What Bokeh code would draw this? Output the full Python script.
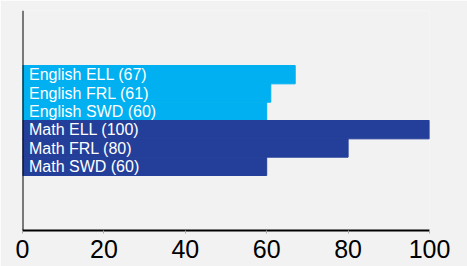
from bokeh.plotting import figure
from bokeh.models import ColumnDataSource, Range1d, Span, FixedTicker
from bokeh.core.properties import value
from bokeh.embed import file_html
from bokeh.resources import INLINE

categories = ["English ELL", "English FRL", "English SWD", "Math ELL", "Math FRL", "Math SWD"]
values = [67, 61, 60, 100, 80, 60]
subjects = ["English", "English", "English", "Math", "Math", "Math"]
subject_colors = {"English": "#00B0F0", "Math": "#243F99"}
x_ticks = [0, 20, 40, 60, 80, 100]

n = len(categories)
slots = 12
pad = (slots - n) / 2
ypos = [slots - pad - i - 0.5 for i in range(n)]
labels = [f"{c} ({v})" for c, v in zip(categories, values)]
colors = [subject_colors[s] for s in subjects]

src = ColumnDataSource(dict(y=ypos, v=values, label=labels, color=colors, zero=[0] * n))

BG = "#f2f2f2"
p = figure(width=467, height=266, output_backend="svg", toolbar_location=None,
           x_range=Range1d(0, 100), y_range=Range1d(0, slots),
           background_fill_color=BG, border_fill_color=BG,
           min_border_left=22, min_border_right=38, min_border_top=10, min_border_bottom=36)
p.outline_line_color = None
p.grid.visible = False
p.yaxis.visible = False

p.hbar(y="y", right="v", left=0, height=1, fill_color="color", line_color="color",
       line_width=1, source=src)
p.text(x="zero", y="y", text="label", source=src, x_offset=6.5, text_color="white",
       text_font=value("Liberation Sans"), text_font_size="16px", text_baseline="middle",
       text_align="left")

p.add_layout(Span(location=0, dimension="height", line_color="black", line_width=2))

ax = p.xaxis[0]
ax.ticker = FixedTicker(ticks=x_ticks)
ax.axis_line_color = "black"
ax.axis_line_width = 2
ax.major_tick_in = 0
ax.major_tick_out = 3
ax.major_tick_line_color = "#aaaaaa"
ax.minor_tick_line_color = None
ax.major_label_standoff = 6
ax.major_label_text_font = "Liberation Sans"
ax.major_label_text_font_size = "25px"
ax.major_label_text_color = "black"

html = file_html(p, INLINE)
html = html.replace("<body>", '<body style="background:#f2f2f2">', 1)
open("out.html", "w").write(html)
